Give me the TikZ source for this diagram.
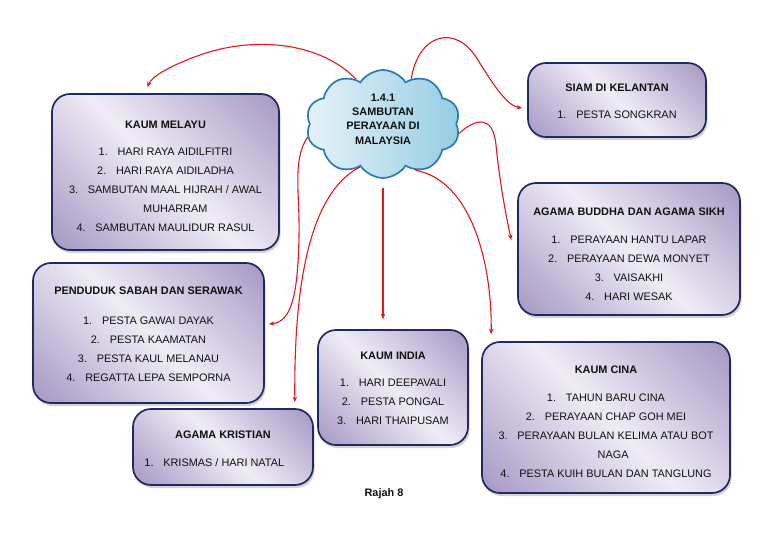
\documentclass[tikz,border=0pt]{standalone}
\usepackage{fontspec}
\setmainfont{Liberation Sans}
\usetikzlibrary{shapes.symbols,shadows,arrows.meta}
\definecolor{boxdark}{HTML}{A89AC6}
\definecolor{boxlight}{HTML}{EFECF6}
\definecolor{boxedge}{HTML}{1F2B5E}
\definecolor{cloudlight}{HTML}{E6F3F9}
\definecolor{clouddark}{HTML}{96CDE3}
\definecolor{cloudedge}{HTML}{2B7AB9}
\definecolor{linkred}{HTML}{E5161C}
\definecolor{inktext}{HTML}{111111}
\pgfdeclarehorizontalshading{boxglow}{100bp}{color(0bp)=(boxdark); color(16bp)=(boxdark); color(50bp)=(boxlight); color(84bp)=(boxdark); color(100bp)=(boxdark)}
\newcommand{\itm}[2]{#1.\hspace{0.9em}#2}
\newcommand{\lift}[1]{\rule{0pt}{#1pt}}
\begin{document}
\begin{tikzpicture}[x=1pt, y=-1pt,
        box/.style={draw=boxedge, line width=1.7pt, rounded corners=18pt, shade, shading=boxglow, shading angle=45,
            drop shadow={shadow xshift=1.5pt, shadow yshift=-3pt, opacity=0.35}, align=center, inner sep=0pt,
            text=inktext, font=\fontsize{10.9}{19}\selectfont},
        link/.style={draw=linkred, line width=1.1pt, ->, >={Stealth[length=5.5pt,width=4.5pt]}}]
            \useasboundingbox (0,0) rectangle (768,543);
            \node (melayu) [box, minimum width=227pt, minimum height=156pt] at (165.5,172) {\lift{16}\textbf{KAUM MELAYU}\\[8pt]\itm{1}{HARI RAYA AIDILFITRI}\\\itm{2}{HARI RAYA AIDILADHA}\\\itm{3}{SAMBUTAN MAAL HIJRAH / AWAL}\\\hspace*{1.8em}MUHARRAM\\\itm{4}{SAMBUTAN MAULIDUR RASUL}};
            \node (sabah) [box, minimum width=231pt, minimum height=140pt] at (148.5,333) {\lift{10}\textbf{PENDUDUK SABAH DAN SERAWAK}\\[11pt]\itm{1}{PESTA GAWAI DAYAK}\\\itm{2}{PESTA KAAMATAN}\\\itm{3}{PESTA KAUL MELANAU}\\\itm{4}{REGATTA LEPA SEMPORNA}};
            \node (kristian) [box, minimum width=180pt, minimum height=76pt] at (223,447) {\lift{12}\textbf{AGAMA KRISTIAN}\\[9pt]\itm{1}{KRISMAS / HARI NATAL}\rule{1.6em}{0pt}};
            \node (india) [box, minimum width=150pt, minimum height=115pt] at (393,387.5) {\lift{10}\textbf{KAUM INDIA}\\[8pt]\itm{1}{HARI DEEPAVALI}\\\itm{2}{PESTA PONGAL}\\\itm{3}{HARI THAIPUSAM}};
            \node (cina) [box, minimum width=248pt, minimum height=151pt] at (606,417.5) {\lift{16}\textbf{KAUM CINA}\\[9pt]\itm{1}{TAHUN BARU CINA}\\\itm{2}{PERAYAAN CHAP GOH MEI}\\\itm{3}{PERAYAAN BULAN KELIMA ATAU BOT}\\\hspace*{1.3em}NAGA\\\itm{4}{PESTA KUIH BULAN DAN TANGLUNG}};
            \node (siam) [box, minimum width=178pt, minimum height=74pt] at (617,100) {\lift{10}\textbf{SIAM DI KELANTAN}\\[8pt]\itm{1}{PESTA SONGKRAN}};
            \node (buddha) [box, minimum width=222pt, minimum height=132pt] at (629,249) {\lift{18}\textbf{AGAMA BUDDHA DAN AGAMA SIKH}\\[9pt]\itm{1}{PERAYAAN HANTU LAPAR}\\\itm{2}{PERAYAAN DEWA MONYET}\\\itm{3}{VAISAKHI}\\\itm{4}{HARI WESAK}};
            \node (cloud) [cloud, cloud puffs=10, cloud puff arc=115, cloud ignores aspect, minimum width=154pt, minimum height=108pt, inner sep=0pt,
                draw=cloudedge, line width=1.7pt, left color=cloudlight, right color=clouddark, align=center, text=inktext,
                font=\bfseries\fontsize{10.9}{14.3}\selectfont] at (383,124) {1.4.1\\SAMBUTAN\\PERAYAAN DI\\MALAYSIA\rule[-10pt]{0pt}{10pt}};
            \node (rajah) [text=inktext, font=\bfseries\fontsize{10.9}{13}\selectfont] at (384,494) {Rajah 8};
            \draw [link] (cloud.121) .. controls (318,40) and (250,37) .. (200,55) .. controls (172,65) and (152,76) .. ([xshift=-18pt,yshift=6pt]melayu.north);
            \draw [link] (cloud.58) .. controls (418,35) and (455,22) .. (478,60) .. controls (495,88) and (508,106) .. ([xshift=-5pt,yshift=-8pt]siam.west);
            \draw [link] (cloud.-7) .. controls (476,118) and (493,115) .. (496,145) .. controls (500,185) and (506,215) .. ([xshift=-6pt,yshift=9pt]buddha.west);
            \draw [link] (cloud.-55) .. controls (470,180) and (492,260) .. ([xshift=10pt,yshift=7pt]cina.north west);
            \draw [link] ([yshift=-9pt]cloud.south) -- ([xshift=-10pt,yshift=10pt]india.north);
            \draw [link] (cloud.242) .. controls (305,195) and (294,300) .. ([xshift=-19pt,yshift=6pt]kristian.north east);
            \draw [link] (cloud.190) .. controls (292,160) and (300,195) .. (299,235) .. controls (298,300) and (290,322) .. ([xshift=4pt,yshift=9pt]sabah.east);
        \end{tikzpicture}
\end{document}
